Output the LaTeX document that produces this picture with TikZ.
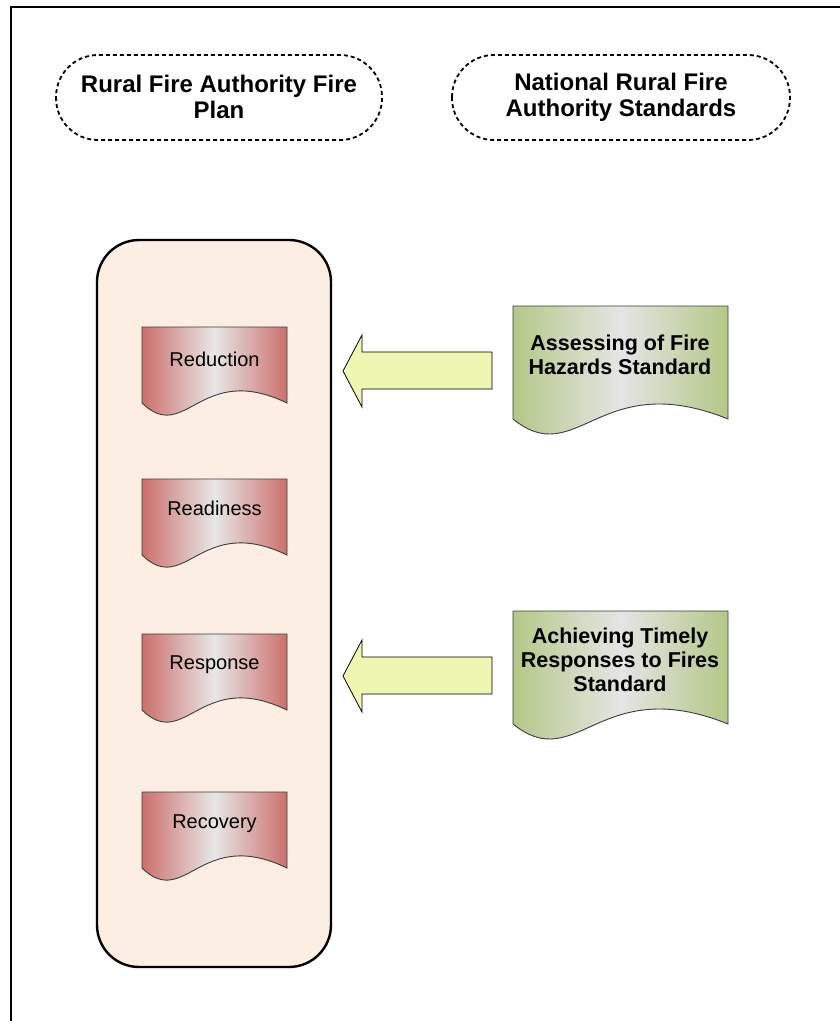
\documentclass[tikz,border=0pt]{standalone}
\usepackage{fontspec}
\setmainfont{Liberation Sans}
\definecolor{planfill}{RGB}{252,238,227}
\definecolor{rededge}{RGB}{204,112,108}
\definecolor{redmid}{RGB}{231,231,231}
\definecolor{greenedge}{RGB}{180,200,135}
\definecolor{greenmid}{RGB}{229,229,229}
\definecolor{arrowfill}{RGB}{239,246,178}
\definecolor{docline}{RGB}{60,60,60}
\tikzset{
  headtext/.style={align=center,inner sep=0pt,font=\fontsize{24}{26}\selectfont\bfseries},
  greentext/.style={align=center,inner sep=0pt,font=\fontsize{21.5}{24}\selectfont\bfseries},
  redtext/.style={inner sep=0pt,font=\fontsize{20}{22}\selectfont},
  pill/.style={draw=black,line width=1.8pt,dash pattern=on 4pt off 3pt,rounded corners=42pt},
  reddoc/.style={draw=docline,line width=0.9pt,left color=rededge,right color=rededge,middle color=redmid},
  greendoc/.style={draw=docline,line width=0.9pt,left color=greenedge,right color=greenedge,middle color=greenmid},
  blockarrow/.style={draw=black,line width=0.8pt,fill=arrowfill,line join=miter},
}
% document shape: #1 x0, #2 y0, #3 width, #4 side height, #5 amplitude, #6 style
\newcommand{\docpath}[6]{%
  \path[#6] (#1,#2) -- ++(#3,0) -- ++(0,#4)
    .. controls ({#1+0.4*#3},{#2+#4-#5}) and ({#1+0.3*#3},{#2+#4+#5}) .. ({#1},{#2+#4}) -- cycle;}
% block arrow pointing left: #1 tip x, #2 center y
\newcommand{\leftarrowshape}[2]{%
  \path[blockarrow] (#1,#2) -- ({#1+19},{#2-36}) -- ({#1+19},{#2-19}) -- ({#1+149},{#2-19})
    -- ({#1+149},{#2+18}) -- ({#1+19},{#2+18}) -- ({#1+19},{#2+36}) -- cycle;}
\begin{document}
\begin{tikzpicture}[x=1pt,y=-1pt]
\useasboundingbox (0,0) rectangle (840,1021);
\fill[white] (0,0) rectangle (840,1021);
% outer frame
\draw[line width=1.1pt] (11,1021) -- (11,7) -- (840,7);
% headings
\draw[pill] (56,55) rectangle (382,140);
\node[headtext] (h1) at (219,97) {Rural Fire Authority Fire\\Plan};
\draw[pill] (452,55) rectangle (790,140);
\node[headtext] (h2) at (621,97) {National Rural Fire\\Authority Standards};
% plan container
\draw[line width=2.4pt,fill=planfill,rounded corners=42pt] (97,240) rectangle (331,967);
% red documents
\docpath{142}{327}{145}{76}{42}{reddoc}
\node[redtext] (reduction) at (214.5,359) {Reduction};
\docpath{142}{479}{145}{76}{42}{reddoc}
\node[redtext] (readiness) at (214.5,508) {Readiness};
\docpath{142}{634}{145}{76}{42}{reddoc}
\node[redtext] (response) at (214.5,665) {Response};
\docpath{142}{792}{145}{76}{42}{reddoc}
\node[redtext] (recovery) at (214.5,824) {Recovery};
% green documents
\docpath{513}{306}{215}{113}{52}{greendoc}
\node[greentext] (assess) at (620,355) {Assessing of Fire\\Hazards Standard};
\docpath{513}{611}{215}{113}{52}{greendoc}
\node[greentext] (achieve) at (620,660) {Achieving Timely\\Responses to Fires\\Standard};
% arrows
\leftarrowshape{343}{371}
\leftarrowshape{343}{676}
\end{tikzpicture}
\end{document}
